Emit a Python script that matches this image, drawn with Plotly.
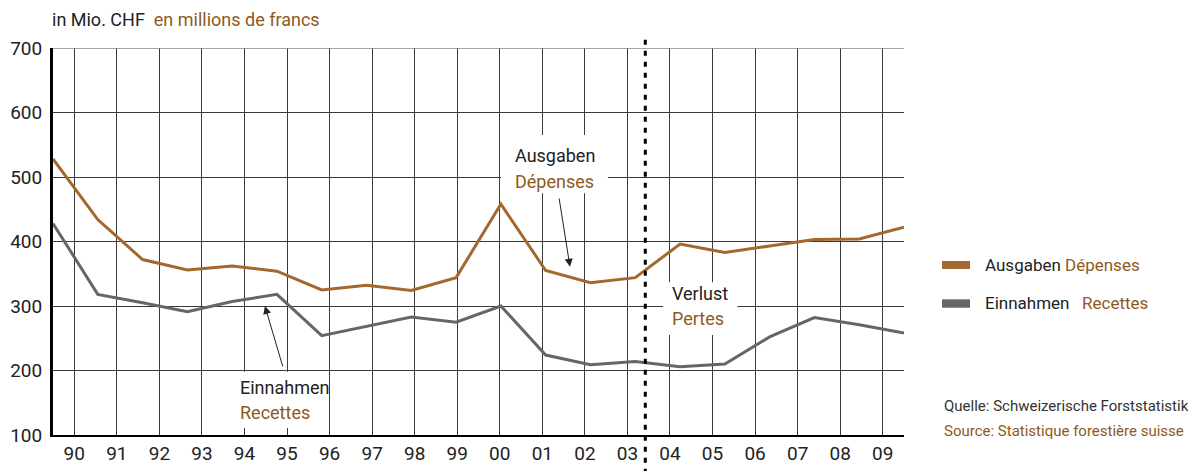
import plotly.graph_objects as go

# Werte in Mio. CHF / valeurs en millions de francs
years = list(range(1990, 2010))
year_labels = ["90", "91", "92", "93", "94", "95", "96", "97", "98", "99",
               "00", "01", "02", "03", "04", "05", "06", "07", "08", "09"]
ausgaben = [528, 434, 372, 356, 362, 354, 325, 332, 324, 344,
            458, 355, 336, 344, 396, 383, 393, 403, 404, 422]
einnahmen = [428, 318, 305, 291, 307, 318, 254, 269, 283, 275,
             300, 224, 209, 214, 206, 210, 252, 282, 271, 258]
y_ticks = [100, 200, 300, 400, 500, 600, 700]

BROWN = "#a2682d"
BROWN_TXT = "#8d5a1d"
GREY = "#666666"
DARK = "#222222"
FONT = "Roboto, sans-serif"

fig = go.Figure()

fig.add_trace(go.Scatter(x=years, y=ausgaben, mode="lines", name="Ausgaben Dépenses",
                         line=dict(color=BROWN, width=3), showlegend=False))
fig.add_trace(go.Scatter(x=years, y=einnahmen, mode="lines", name="Einnahmen Recettes",
                         line=dict(color=GREY, width=3), showlegend=False))
# carrier trace for the category axis with the year grid
fig.add_trace(go.Scatter(x=[0, 20], y=[100, 100], xaxis="x2", mode="lines",
                         line=dict(width=0), hoverinfo="skip", showlegend=False))

# page body adds 8px, so the figure is 8px smaller on each side
fig.update_layout(
    width=1189, height=463,
    margin=dict(l=45, r=293, t=40, b=36),
    paper_bgcolor="white", plot_bgcolor="white",
    font=dict(family=FONT, color=DARK, size=18),
    xaxis=dict(range=[1990, 2009], visible=False, fixedrange=True, automargin=False),
    xaxis2=dict(range=[0, 20], overlaying="x", side="bottom", automargin=False,
                tickvals=[i + 0.5 for i in range(20)], ticktext=year_labels,
                showgrid=True, gridcolor="#3a3a3a", gridwidth=1.2,
                showline=True, linecolor="black", linewidth=2,
                ticks="", tickfont=dict(size=19, color=DARK), zeroline=False),
    yaxis=dict(range=[100, 700], tickvals=y_ticks, showgrid=True, automargin=False,
               gridcolor="#3a3a3a", gridwidth=1.2, zeroline=False,
               showline=True, linecolor="black", linewidth=3,
               ticks="", ticklabelstandoff=4,
               tickfont=dict(size=19, color=DARK)),
)

# white boxes behind the labels (cover the grid, not the lines); x in years
boxes = [(2000.0, 2002.39, 475, 565), (1994.04, 1996.14, 111, 198),
         (2003.62, 2005.28, 255, 337)]
shapes = []
for x0, x1, y0, y1 in boxes:
    shapes.append(dict(type="rect", xref="x", yref="y", x0=x0, x1=x1, y0=y0, y1=y1,
                       fillcolor="white", line=dict(width=0), layer="between"))
# top border line
shapes.append(dict(type="line", xref="paper", yref="y", x0=0, x1=1, y0=700, y1=700,
                   line=dict(color="#888888", width=1.5)))
# Verlust boundary
shapes.append(dict(type="line", xref="paper", yref="paper", x0=0.696, x1=0.696,
                   y0=-0.1, y1=1.034, line=dict(color="black", width=3, dash="5px,6px")))
# legend swatches
shapes.append(dict(type="rect", xref="paper", yref="paper", x0=1.0447, x1=1.0776,
                   y0=0.4289, y1=0.4496, fillcolor=BROWN, line=dict(width=0)))
shapes.append(dict(type="rect", xref="paper", yref="paper", x0=1.0447, x1=1.0776,
                   y0=0.3289, y1=0.3506, fillcolor=GREY, line=dict(width=0)))
fig.update_layout(shapes=shapes)

ann = []
def label(x, y, text, color, xref="x2", yref="y", size=18):
    ann.append(dict(x=x, y=y, xref=xref, yref=yref, text=text, showarrow=False,
                    xanchor="left", yanchor="middle", font=dict(color=color, size=size)))

# in-chart labels
label(10.81, 533, "Ausgaben", DARK)
label(10.81, 493, "Dépenses", BROWN_TXT)
label(4.34, 174, "Einnahmen", DARK)
label(4.34, 135, "Recettes", BROWN_TXT)
label(14.5, 320, "Verlust", DARK)
label(14.5, 281, "Pertes", BROWN_TXT)

# arrows
ann.append(dict(x=12.15, y=361, ax=11.89, ay=469, xref="x2", yref="y",
                axref="x2", ayref="y", text="", showarrow=True, arrowhead=2,
                arrowsize=1.6, arrowwidth=1, arrowcolor=DARK, standoff=0))
ann.append(dict(x=4.98, y=300, ax=5.41, ay=204, xref="x2", yref="y",
                axref="x2", ayref="y", text="", showarrow=True, arrowhead=2,
                arrowsize=1.6, arrowwidth=1, arrowcolor=DARK, standoff=0))

# title
ann.append(dict(x=-0.003, y=1.073, xref="paper", yref="paper", showarrow=False,
                xanchor="left", yanchor="middle",
                text="in Mio. CHF  <span style='color:%s'>en millions de francs</span>" % BROWN_TXT,
                font=dict(size=18, color=DARK)))

# legend text
label(1.0928, 0.439, "Ausgaben", DARK, "paper", "paper", 17)
label(1.1868, 0.439, "Dépenses", BROWN_TXT, "paper", "paper", 17)
label(1.0928, 0.341, "Einnahmen", DARK, "paper", "paper", 17)
label(1.2068, 0.341, "Recettes", BROWN_TXT, "paper", "paper", 17)

# source
label(1.0447, 0.075, "Quelle: Schweizerische Forststatistik", "#333333", "paper", "paper", 15)
label(1.0447, 0.011, "Source: Statistique forestière suisse", BROWN_TXT, "paper", "paper", 15)

fig.update_layout(annotations=ann)

fig.write_html("out.html")
